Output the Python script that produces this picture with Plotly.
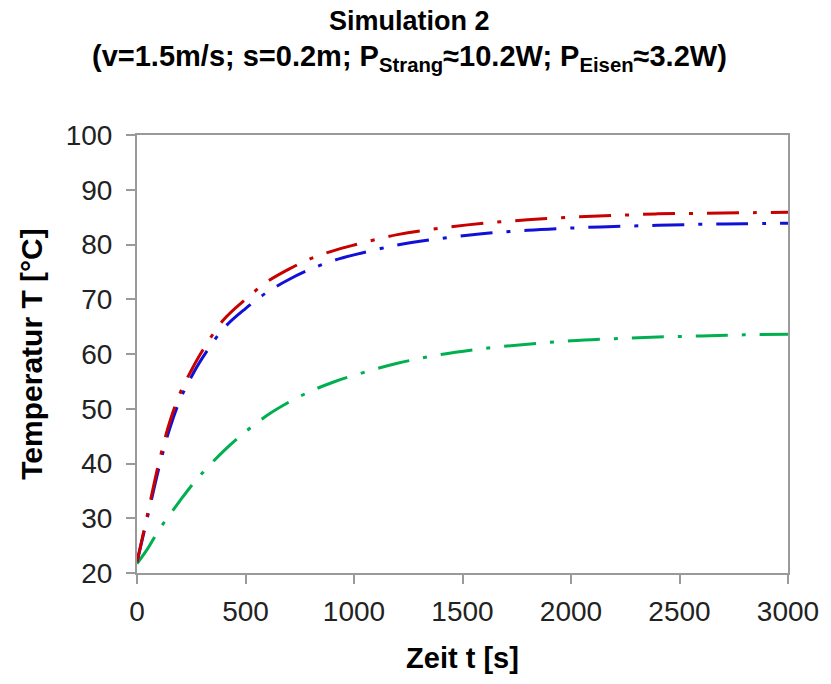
import plotly.graph_objects as go

t = [0, 50, 100, 150, 200, 250, 300, 400, 500, 600, 700, 800, 900, 1000,
     1200, 1400, 1600, 1800, 2000, 2200, 2400, 2600, 2800, 3000]
T_red = [22.0, 31.0, 40.0, 47.5, 53.0, 57.0, 60.5, 66.3, 70.0, 73.2, 75.5, 77.4, 78.8, 79.9,
         81.8, 83.0, 83.9, 84.5, 85.0, 85.3, 85.6, 85.7, 85.8, 85.9]
T_blue = [22.0, 30.5, 39.0, 46.3, 51.8, 55.8, 59.2, 64.7, 68.3, 71.3, 73.6, 75.5, 77.0, 78.1,
          79.9, 81.1, 82.0, 82.6, 83.0, 83.3, 83.5, 83.7, 83.8, 83.9]
T_green = [21.7, 24.5, 27.8, 30.6, 33.3, 35.9, 38.2, 42.3, 45.8, 48.8, 51.2, 53.2, 54.8, 56.1,
           58.3, 59.9, 61.0, 61.8, 62.4, 62.8, 63.1, 63.3, 63.5, 63.6]

x_ticks = [0, 500, 1000, 1500, 2000, 2500, 3000]
y_ticks = [20, 30, 40, 50, 60, 70, 80, 90, 100]

title_line1 = "Simulation 2"
title_line2 = "(v=1.5m/s; s=0.2m; P<sub>Strang</sub>≈10.2W; P<sub>Eisen</sub>≈3.2W)"

dash = "32px,14px,4px,14px"
fig = go.Figure()
for y, c in [(T_green, "#00B050"), (T_blue, "#1010D8"), (T_red, "#C80000")]:
    fig.add_trace(go.Scatter(x=t, y=y, mode="lines", line=dict(color=c, width=3, dash=dash, shape="spline"),
                             showlegend=False))

font = "Liberation Sans, Arial, sans-serif"
fig.update_layout(
    width=831, height=684,
    paper_bgcolor="white", plot_bgcolor="white",
    margin=dict(l=137, r=43, t=135, b=111),
    font=dict(family=font),
)
fig.add_annotation(text="<b>" + title_line1 + "</b>", xref="paper", yref="paper",
                   x=0.418, y=(573 - 21) / 438, xanchor="center", yanchor="middle",
                   showarrow=False, font=dict(family=font, size=27, color="black"))
fig.add_annotation(text="<b>" + title_line2 + "</b>", xref="paper", yref="paper",
                   x=0.418, y=(573 - 58) / 438, xanchor="center", yanchor="middle",
                   showarrow=False, font=dict(family=font, size=29, color="black"))

axis_common = dict(
    showgrid=False, zeroline=False, showline=True, linecolor="#9a9a9a", linewidth=2,
    mirror=True, ticks="outside", ticklen=9, tickwidth=2, tickcolor="#9a9a9a",
    tickfont=dict(family=font, size=28, color="#222"),
)
fig.update_xaxes(range=[0, 3000], tickvals=x_ticks, **axis_common, ticklabelstandoff=3,
                 title=dict(text="<b>Zeit t [s]</b>", font=dict(family=font, size=29, color="black"), standoff=22))
fig.update_yaxes(range=[20, 100], tickvals=y_ticks, **axis_common, ticklabelstandoff=8,
                 title=dict(text="<b>Temperatur T [°C]</b>", font=dict(family=font, size=30, color="black"), standoff=14))

fig.write_html("out.html")
